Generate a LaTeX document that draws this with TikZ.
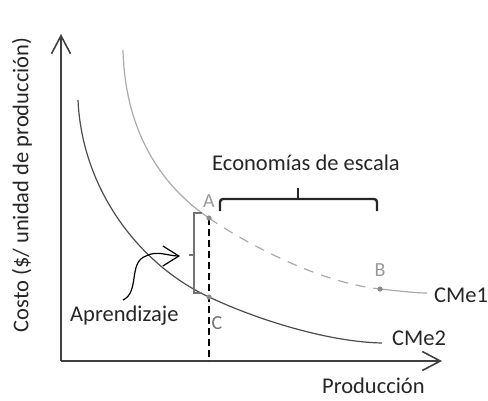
\documentclass[tikz,border=0pt]{standalone}
\usepackage{fontspec}
\setmainfont{Carlito}
\usetikzlibrary{arrows.meta}
\begin{document}
\begin{tikzpicture}[x=1pt,y=-1pt,
  lbl/.style={font=\fontsize{22.5}{26}\selectfont, text=black!85, inner sep=0pt},
  ptlbl/.style={font=\fontsize{20}{23}\selectfont, inner sep=0pt},
  axisline/.style={draw=black!75, line width=1.6pt, -{Straight Barb[length=18pt,width=19pt,line width=1.6pt]}},
  cmeone/.style={draw=black!33, line width=1.2pt},
  cmetwo/.style={draw=black!70, line width=1.2pt},
  bracegray/.style={draw=black!55, line width=2.4pt},
  braceblack/.style={draw=black!85, line width=2.4pt},
  dot/.style={fill=black!45}]
\useasboundingbox (0,0) rectangle (488,400);
% axes
\coordinate (O) at (61,361);
\coordinate (Ytop) at (61,34);
\coordinate (Xend) at (442,361);
\draw[axisline] (O) -- (Ytop);
\draw[axisline] (O) -- (Xend);
% points
\coordinate (A) at (209,218);
\coordinate (B) at (380,289);
\coordinate (C) at (209,297);
\coordinate (S1) at (123,50);
\coordinate (E1) at (427,293);
\coordinate (S2) at (78,100);
\coordinate (E2) at (382,343);
% CMe1
\draw[cmeone] (S1) .. controls (125,130) and (160,185) .. (A);
\draw[cmeone, dash pattern=on 10pt off 8pt] (A) .. controls (245,243) and (320,283) .. (B);
\draw[cmeone] (B) .. controls (400,291) and (415,293) .. (E1);
% CMe2
\draw[cmetwo] (S2) .. controls (82,190) and (140,265) .. (C) .. controls (260,321) and (330,342) .. (E2);
% vertical dashed line
\coordinate (Cbase) at (209,361);
\draw[black, line width=1.3pt, dash pattern=on 7pt off 4pt] (A) -- (Cbase);
% markers
\fill[dot] (A) circle (2.6);
\fill[dot] (B) circle (2.6);
\fill[dot] (C) circle (2.6);
% left brace
\coordinate (L1) at (202,213);
\coordinate (L2) at (194,213);
\coordinate (L3) at (194,293);
\coordinate (L4) at (202,293);
\coordinate (Lm1) at (194,255);
\coordinate (Lm2) at (189,255);
\draw[bracegray] (L1) -- (L2) -- (L3) -- (L4);
\draw[bracegray] (Lm1) -- (Lm2);
% top brace
\coordinate (T1) at (220,211);
\coordinate (T2) at (220,199);
\coordinate (T3) at (377,199);
\coordinate (T4) at (377,211);
\coordinate (Tm1) at (298,199);
\coordinate (Tm2) at (298,188);
\draw[braceblack, rounded corners=3pt] (T1) -- (T2) -- (T3) -- (T4);
\draw[braceblack] (Tm1) -- (Tm2);
% curly arrow
\coordinate (W1) at (123,300);
\coordinate (W2) at (146,256);
\coordinate (W3) at (180,256);
\draw[black, line width=1.2pt, -{Straight Barb[length=16pt,width=20pt,line width=1.2pt]}]
  (W1) .. controls (140,292) and (128,262) .. (W2) .. controls (157,250) and (168,256) .. (W3);
% labels
\node[lbl, anchor=center] (econ) at (306,163) {Economías de escala};
\node[ptlbl, text=black!40] (Alab) at (209,201) {A};
\node[ptlbl, text=black!40] (Blab) at (380,270) {B};
\node[ptlbl, text=black!55] (Clab) at (217,323) {C};
\node[lbl, anchor=west] (cme1) at (434,295) {CMe1};
\node[lbl, anchor=west] (cme2) at (392,338) {CMe2};
\node[lbl, anchor=west] (apr) at (70,316) {Aprendizaje};
\node[lbl, anchor=west] (prod) at (322,386) {Producción};
\node[lbl, rotate=90] (ylab) at (22,185) {Costo (\$/ unidad de producción)};
\end{tikzpicture}
\end{document}
